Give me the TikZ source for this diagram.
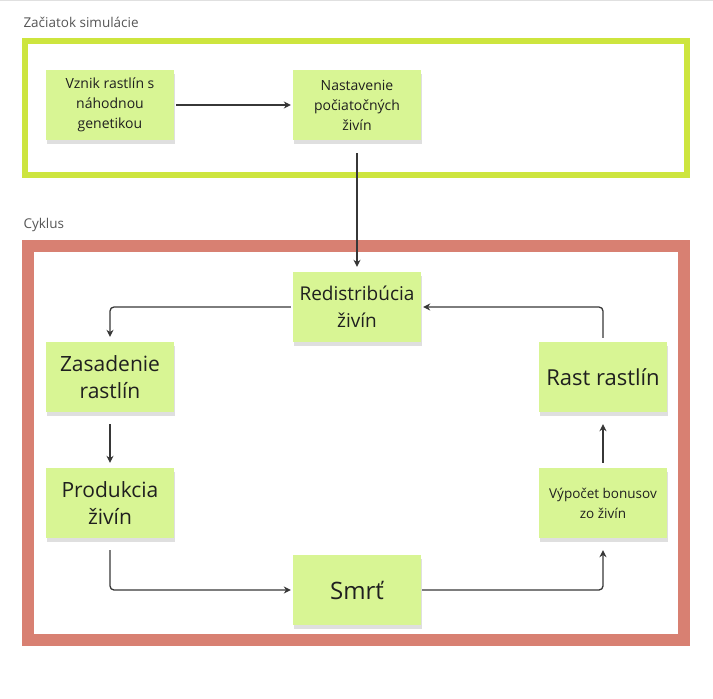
\documentclass[tikz,border=0pt]{standalone}
\usepackage{fontspec}
\setmainfont{Open Sans}
\usetikzlibrary{arrows.meta,shadows}
\definecolor{notegreen}{RGB}{216,245,148}
\definecolor{startgreen}{RGB}{205,229,62}
\definecolor{cyclered}{RGB}{216,128,114}
\definecolor{linegray}{RGB}{55,55,55}
\definecolor{labelgray}{RGB}{85,85,85}
\begin{document}
\begin{tikzpicture}[x=1pt,y=-1pt,>={Stealth[length=7pt,width=7pt]}]
	\tikzstyle{note}=[fill=notegreen,minimum width=128pt,minimum height=70pt,inner sep=0pt,align=center,text=black!88,drop shadow={shadow xshift=1pt,shadow yshift=-4pt,opacity=0.25}]
	\tikzstyle{small}=[font=\fontsize{14}{20}\selectfont]
	\tikzstyle{big}=[font=\fontsize{21}{27}\selectfont]
	\tikzstyle{label}=[anchor=west,text=labelgray,font=\fontsize{13.5}{16}\selectfont]
	\tikzstyle{link}=[->,draw=linegray,line width=1.3pt,rounded corners=4pt]

	\useasboundingbox (0,0) rectangle (713,699);
	\draw[black!12,line width=1pt] (0,0.5) -- (713,0.5);

	% frames
	\draw[startgreen,line width=6pt] (25,41) rectangle (687,175);
	\draw[cyclered,line width=12pt] (28,246) rectangle (684,640);
	\node[label] (L1) at (20,22) {Začiatok simulácie};
	\node[label] (L2) at (20,225) {Cyklus};

	\node[note,small] (N1) at (110,105) {Vznik rastlín s\\náhodnou\\genetikou};
	\node[note,small] (N2) at (357,105) {Nastavenie\\počiatočných\\živín};
	\node[note,font=\fontsize{19}{27}\selectfont] (N3) at (357,307) {Redistribúcia\\živín};
	\node[note,big] (N4) at (110,377) {Zasadenie\\rastlín};
	\node[note,big] (N5) at (110,503) {Produkcia\\živín};
	\node[note,font=\fontsize{24}{28}\selectfont] (N6) at (357,590) {Smrť};
	\node[note,font=\fontsize{13.5}{20}\selectfont] (N7) at (603,503) {Výpočet bonusov\\zo živín};
	\node[note,font=\fontsize{22}{27}\selectfont] (N8) at (603,377) {Rast rastlín};

	\draw[link,shorten <=2pt,shorten >=2pt] (N1) -- (N2);
	\draw[link,shorten <=13pt,shorten >=5pt] (N2) -- (N3);

	\draw[link,shorten <=2pt,shorten >=5pt] (N3) -| (N4);
	\draw[link,shorten <=12pt,shorten >=5pt] (N4) -- (N5);
	\draw[link,shorten <=12pt,shorten >=2pt] (N5) |- (N6);
	\draw[link,shorten <=1pt,shorten >=12pt] (N6) -| (N7);
	\draw[link,shorten <=5pt,shorten >=12pt] (N7) -- (N8);
	\draw[link,shorten <=4pt,shorten >=2pt] (N8) |- (N3);
\end{tikzpicture}
\end{document}
